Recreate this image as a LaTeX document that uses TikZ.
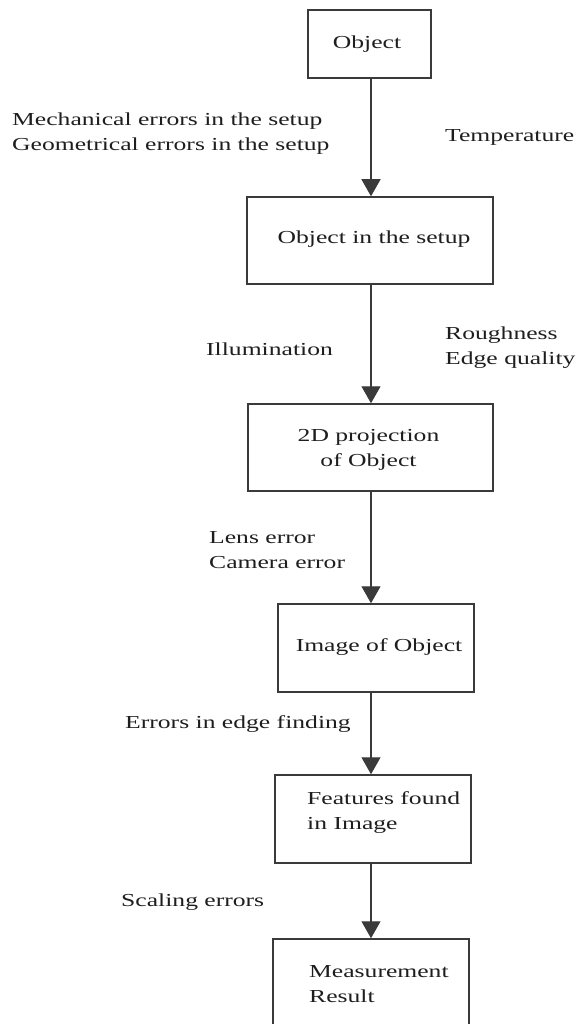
\documentclass[tikz,border=0pt]{standalone}
\usepackage{fontspec}
\setmainfont{Liberation Serif}[FakeStretch=1.40]
\usetikzlibrary{arrows.meta}
\definecolor{ink}{HTML}{1E1E1E}
\definecolor{edge}{HTML}{3A3A3A}
\tikzset{
  box/.style={draw=edge, line width=1.5pt, rectangle, inner sep=0pt},
  txt/.style={text=ink, inner sep=0pt, font=\fontsize{18.3}{25}\selectfont},
  lbl/.style={txt, anchor=west, align=left},
  flow/.style={draw=edge, line width=1.2pt, -{Triangle[width=19pt,length=17pt]}}
}
\begin{document}
\begin{tikzpicture}[x=1pt,y=-1pt]
\useasboundingbox (0,0) rectangle (576,1024);
\clip (0,0) rectangle (576,1024);
\fill[white] (0,0) rectangle (576,1024);
\coordinate (spine) at (371,0);
% boxes
\node[box, minimum width=123pt, minimum height=68pt] (obj) at (369.5,44) {};
\node[box, minimum width=246pt, minimum height=87pt] (setup) at (370,240.5) {};
\node[box, minimum width=245pt, minimum height=87pt] (proj) at (370.5,447.5) {};
\node[box, minimum width=196pt, minimum height=88pt] (img) at (376,648) {};
\node[box, minimum width=196pt, minimum height=88pt] (feat) at (373,819) {};
\node[box, minimum width=196pt, minimum height=96pt] (meas) at (371,987) {};
% box texts
\node[txt] (objT) at (367,44) {Object};
\node[txt] (setupT) at (374,239) {Object in the setup};
\node[txt, align=center] (projT) at (368.5,450) {2D projection\\of Object};
\node[txt] (imgT) at (379,647) {Image of Object};
\node[lbl] (featT) at (307,813) {Features found\\in Image};
\node[lbl] (measT) at (309,984) {Measurement\\Result};
% side labels
\node[lbl] (mech) at (12,134) {Mechanical errors in the setup\\Geometrical errors in the setup};
\node[lbl] (temp) at (445,137) {Temperature};
\node[lbl] (illum) at (206,349) {Illumination};
\node[lbl] (rough) at (445,348) {Roughness\\Edge quality};
\node[lbl] (lens) at (209,550) {Lens error\\Camera error};
\node[lbl] (edgeF) at (125,724) {Errors in edge finding};
\node[lbl] (scal) at (121,902) {Scaling errors};
% connectors
\draw[flow] (obj.south -| spine) -- (setup.north -| spine);
\draw[flow] (setup.south -| spine) -- (proj.north -| spine);
\draw[flow] (proj.south -| spine) -- (img.north -| spine);
\draw[flow] (img.south -| spine) -- (feat.north -| spine);
\draw[flow] (feat.south -| spine) -- (meas.north -| spine);
\end{tikzpicture}
\end{document}
